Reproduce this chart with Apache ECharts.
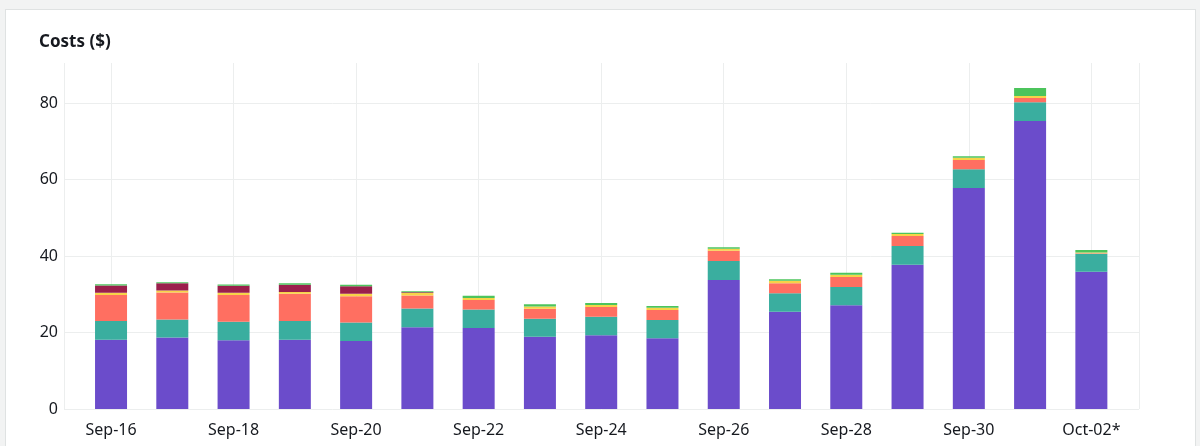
<!DOCTYPE html>
<html>
<head>
<meta charset="utf-8">
<script src="https://cdn.jsdelivr.net/npm/echarts@6/dist/echarts.min.js"></script>
<style>
  html, body { margin: 0; padding: 0; background: #f2f3f3; }
  #card {
    position: absolute; left: 5px; top: 9px; width: 1189px; height: 450px;
    background: #fff; border: 1px solid #dfe2e2;
  }
  #main { position: absolute; left: 0; top: 0; width: 1200px; height: 446px; }
</style>
</head>
<body>
<div id="card"></div>
<div id="main"></div>
<script>
// 日期（最后一天未结束）
const days = ['Sep-16', 'Sep-17', 'Sep-18', 'Sep-19', 'Sep-20', 'Sep-21', 'Sep-22', 'Sep-23', 'Sep-24',
  'Sep-25', 'Sep-26', 'Sep-27', 'Sep-28', 'Sep-29', 'Sep-30', 'Oct-01', 'Oct-02*']

// 各服务费用，自下而上堆叠
const purple = [18.1, 18.7, 17.95, 18.1, 17.8, 21.4, 21.2, 18.9, 19.3, 18.5, 33.7, 25.4, 27.1, 37.7, 57.8, 75.3, 35.9]
const teal = [4.9, 4.7, 4.85, 4.9, 4.8, 4.9, 4.8, 4.7, 4.8, 4.8, 5.0, 4.85, 4.8, 4.9, 4.9, 4.9, 4.7]
const salmon = [6.8, 7.05, 7.0, 7.1, 6.9, 3.4, 2.5, 2.6, 2.6, 2.6, 2.7, 2.65, 2.6, 2.6, 2.4, 1.1, 0.1]
const yellow = [0.6, 0.5, 0.6, 0.5, 0.6, 0.6, 0.5, 0.6, 0.5, 0.6, 0.5, 0.6, 0.6, 0.55, 0.6, 0.5, 0.2]
const maroon = [1.9, 1.9, 1.8, 1.9, 2.0, 0.25, 0, 0, 0, 0, 0, 0, 0, 0, 0, 0, 0]
const green = [0.3, 0.3, 0.35, 0.35, 0.4, 0.25, 0.6, 0.6, 0.5, 0.4, 0.4, 0.4, 0.5, 0.35, 0.4, 2.1, 0.7]

const yTicks = [0, 20, 40, 60, 80]

const layers = [
  { data: purple, color: '#6b4ccb' },
  { data: teal, color: '#3aae9f' },
  { data: salmon, color: '#ff6f61' },
  { data: yellow, color: '#f7d348' },
  { data: maroon, color: '#9b1f4c' },
  { data: green, color: '#4cc45c' }
]

const gridColor = '#eceeee'
const textColor = '#16191f'
const font = 'Noto Sans'

// 柱子所在区域：每个类目宽度约 61.3px
const barLeft = 80.4
const barRight = 78
const band = (1200 - barLeft - barRight) / days.length

const myChart = echarts.init(document.getElementById('main'))

myChart.setOption({
  animation: false,
  title: {
    text: 'Costs ($)',
    left: 34,
    top: 29,
    textStyle: { fontFamily: font, fontSize: 17, fontWeight: 'bold', color: textColor }
  },
  grid: [
    // 横向网格线 + y 轴刻度
    { left: 64, right: 61, top: 103, bottom: 37 },
    // 柱子
    { left: barLeft, right: barRight, top: 63, bottom: 37 },
    // 绘图区左右边框
    { left: 64, right: 61, top: 63, bottom: 37 },
    // 纵向网格线（对齐标签）
    { left: barLeft + band / 2, right: barRight + band / 2, top: 63, bottom: 37 }
  ],
  xAxis: [
    { gridIndex: 0, type: 'value', min: 0, max: 1, show: false },
    {
      gridIndex: 1,
      type: 'category',
      data: days,
      axisLine: { show: false },
      axisTick: { show: false },
      axisLabel: {
        interval: 1,
        margin: 13,
        fontFamily: font,
        fontSize: 16,
        color: textColor
      },
      splitLine: { show: false }
    },
    {
      gridIndex: 2,
      type: 'value',
      min: 0,
      max: 1,
      interval: 1,
      axisLine: { show: false },
      axisTick: { show: false },
      axisLabel: { show: false },
      splitLine: { show: true, lineStyle: { color: gridColor } }
    },
    {
      gridIndex: 3,
      type: 'value',
      min: 0,
      max: days.length - 1,
      interval: 2,
      axisLine: { show: false },
      axisTick: { show: false },
      axisLabel: { show: false },
      splitLine: { show: true, lineStyle: { color: gridColor } }
    }
  ],
  yAxis: [
    {
      gridIndex: 0,
      type: 'value',
      min: yTicks[0],
      max: yTicks[yTicks.length - 1],
      interval: 20,
      axisLine: { show: false },
      axisTick: { show: false },
      axisLabel: { margin: 6, fontFamily: font, fontSize: 16, color: textColor },
      splitLine: { lineStyle: { color: gridColor } }
    },
    { gridIndex: 1, type: 'value', min: 0, max: 90.46, show: false },
    { gridIndex: 2, type: 'value', min: 0, max: 1, show: false },
    { gridIndex: 3, type: 'value', min: 0, max: 1, show: false }
  ],
  series: layers.map(l => ({
    type: 'bar',
    xAxisIndex: 1,
    yAxisIndex: 1,
    stack: 'cost',
    barWidth: 32,
    data: l.data,
    itemStyle: { color: l.color }
  }))
})
</script>
</body>
</html>
